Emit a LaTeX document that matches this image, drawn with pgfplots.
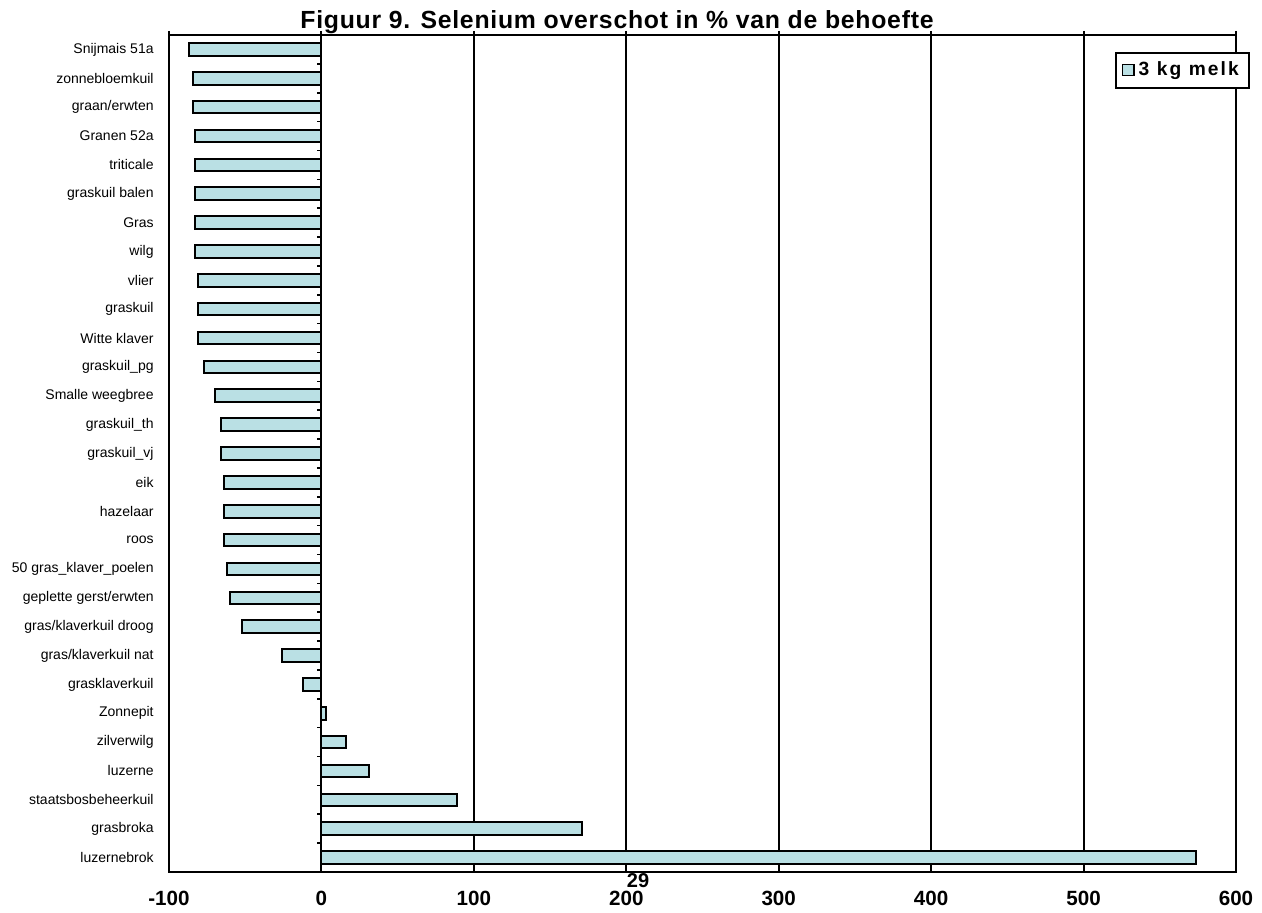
\documentclass[border=0pt]{standalone}
\usepackage{pgfplots}
\pgfplotsset{compat=1.18}
\usepackage{fontspec}
\setmainfont{Liberation Sans}
\definecolor{barcol}{RGB}{186,224,228}
\begin{document}
\begin{tikzpicture}
\useasboundingbox (0,0) rectangle (631pt,456pt);
\begin{axis}[
  at={(84.5pt,20pt)}, anchor=south west,
  scale only axis, width=533.5pt, height=418.5pt,
  xbar, bar width=6.3pt,
  xmin=-100, xmax=600, ymin=-0.5, ymax=28.5,
  xtick={-100,0,...,600},
  xmajorgrids, grid style={black, line width=1pt},
  axis line style={black, line width=1.2pt},
  xtick pos=upper, xticklabel pos=lower, tick align=outside,
  major tick length=2pt,
  x tick style={black, line width=1pt},
  /pgf/number format/assume math mode=true,
  xticklabel={\bfseries\pgfmathprintnumber{\tick}},
  xticklabel style={font=\fontsize{10.3}{12}\selectfont\bfseries, inner sep=0pt, anchor=north, yshift=-7.5pt},
  ytick={0,...,28},
  y tick style={draw=none},
  yticklabels={luzernebrok,grasbroka,staatsbosbeheerkuil,luzerne,zilverwilg,Zonnepit,grasklaverkuil,gras/klaverkuil nat,gras/klaverkuil droog,geplette gerst/erwten,50 gras\_klaver\_poelen,roos,hazelaar,eik,graskuil\_vj,graskuil\_th,Smalle weegbree,graskuil\_pg,Witte klaver,graskuil,vlier,wilg,Gras,graskuil balen,triticale,Granen 52a,graan/erwten,zonnebloemkuil,Snijmais 51a},
  yticklabel style={font=\fontsize{7}{8}\selectfont, inner sep=0pt, xshift=-5.5pt},
  legend style={at={(1.013,0.98)}, anchor=north east, draw=black, line width=1pt,
    font=\fontsize{9.6}{11}\selectfont\bfseries\addfontfeature{LetterSpace=11}, inner xsep=3pt, inner ysep=2.5pt},
  legend image code/.code={\draw[black, line width=0.7pt, fill=barcol] (0pt,-2.7pt) rectangle (5.6pt,2.7pt);},
]
\addplot[fill=barcol, draw=black, line width=1pt] coordinates {
(574,0) (171,1) (89,2) (31,3) (16,4) (3,5) (-12,6) (-26,7) (-52,8) (-60,9)
(-62,10) (-64,11) (-64,12) (-64,13) (-66,14) (-66,15) (-70,16) (-77,17) (-81,18) (-81,19)
(-81,20) (-83,21) (-83,22) (-83,23) (-83,24) (-83,25) (-84,26) (-84,27) (-87,28)};
\addlegendentry{3 kg melk}
\pgfplotsinvokeforeach{0,...,28}{\draw[black, line width=0.8pt] (axis cs:0,#1-0.5) -- ++(-2pt,0pt);}
\end{axis}
\node[font=\fontsize{12.4}{14}\selectfont\bfseries\addfontfeature{LetterSpace=3}, anchor=base west, inner sep=0pt] at (150pt,441.5pt) {Figuur 9. Selenium overschot in \% van de behoefte};
\node[font=\fontsize{10}{12}\selectfont\bfseries, inner sep=0pt, anchor=north] at (319pt,19.3pt) {29};
\end{tikzpicture}
\end{document}
